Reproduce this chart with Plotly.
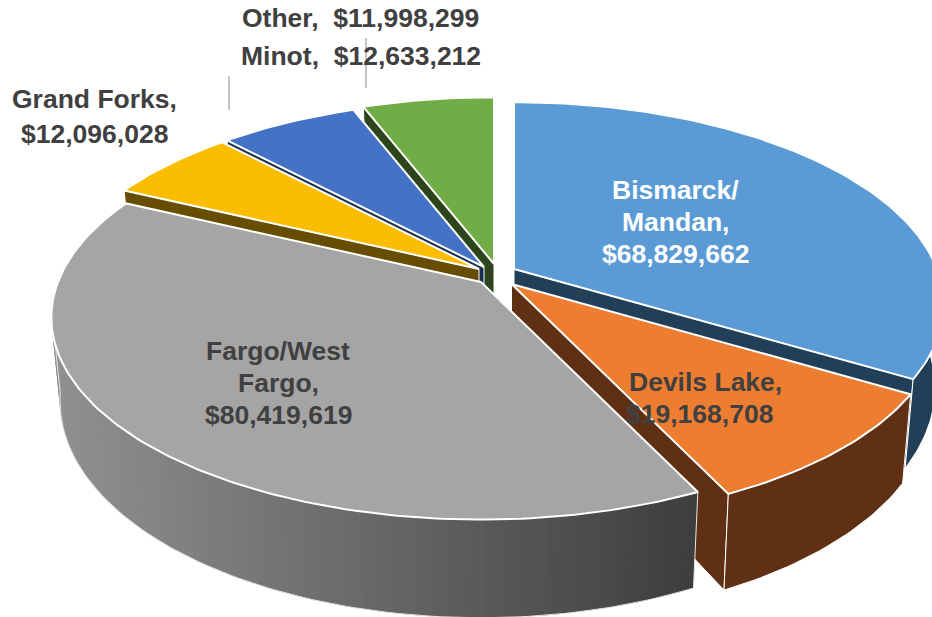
import math
import plotly.graph_objects as go

# ---- data ----
cities = ["Bismarck/Mandan", "Devils Lake", "Fargo/West Fargo", "Grand Forks", "Minot", "Other"]
funding = [68829662, 19168708, 80419619, 12096028, 12633212, 11998299]

# ---- styling, keyed by city ----
top_colors = {"Bismarck/Mandan": "#5B9BD5", "Devils Lake": "#ED7D31", "Fargo/West Fargo": "#A5A5A5",
              "Grand Forks": "#FBBD00", "Minot": "#4472C4", "Other": "#70AD47"}
wall_colors = {"Bismarck/Mandan": "#223F58", "Devils Lake": "#5F3014", "Grand Forks": "#664D00",
               "Minot": "#1B2D4E", "Other": "#2D451C"}
explode_centre = {"Bismarck/Mandan": (514, 269), "Devils Lake": (511.5, 284), "Fargo/West Fargo": (481, 282),
                  "Grand Forks": (479, 269), "Minot": (484, 267), "Other": (494, 264)}
draw_order = ["Other", "Minot", "Grand Forks", "Bismarck/Mandan", "Devils Lake", "Fargo/West Fargo"]
# which straight edge of each slice shows a side wall, and whether its rim wall shows
cut_wall_edge = {"Other": 0, "Minot": 0, "Grand Forks": 0, "Bismarck/Mandan": 1, "Devils Lake": 1}
rim_wall = {"Bismarck/Mandan", "Devils Lake"}

RX, RY, PERSP, DEPTH, FLOOR = 423.0, 196.0, 0.175, 81.0, 0.98
INK = "#404040"
FS = 26.5
LEFT_TANGENT_CLOCK = 262.0

total = sum(funding)
spans = {}
acc = 0.0
for c, v in zip(cities, funding):
    spans[c] = (acc, acc + 360.0 * v / total)
    acc = spans[c][1]


def rim(clock, centre, low=False):
    t = math.radians(90 - clock)
    p = 1 / (1 + PERSP * math.sin(t))
    x = RX * math.cos(t) * p * (FLOOR if low else 1)
    y = -RY * math.sin(t) * p + (DEPTH * p if low else 0)
    return centre[0] + x, centre[1] + y


def arc(a, b, centre, low=False, step=1.0):
    n = max(2, int(abs(b - a) / step) + 1)
    return [rim(a + (b - a) * i / (n - 1), centre, low) for i in range(n)]


fig = go.Figure()


def poly(pts, fill, line="#FFFFFF", width=1.0, name=None):
    xs = [p[0] for p in pts] + [pts[0][0]]
    ys = [p[1] for p in pts] + [pts[0][1]]
    fig.add_trace(go.Scatter(x=xs, y=ys, mode="lines", fill="toself", fillcolor=fill,
                             line=dict(color=line, width=width), name=name, hoverinfo="skip"))


def grey_at(x):
    f = min(1.0, max(0.0, (x - 55) / (690 - 55)))
    v = round(0x90 + (0x3E - 0x90) * f)
    return f"rgb({v},{v},{v})"


for c in draw_order:
    a0, a1 = spans[c]
    ctr = explode_centre[c]
    low_c = (ctr[0], ctr[1] + DEPTH)
    if c == "Fargo/West Fargo":
        end = LEFT_TANGENT_CLOCK
        n = int(end - a0)
        for i in range(n):
            u0 = a0 + (end - a0) * i / n
            u1 = a0 + (end - a0) * min(n, i + 2) / n   # overlaps the next strip, so no seams
            q = [rim(u0, ctr), rim(u1, ctr), rim(u1, ctr, True), rim(u0, ctr, True)]
            xs = [p[0] for p in q] + [q[0][0]]
            ys = [p[1] for p in q] + [q[0][1]]
            fig.add_trace(go.Scatter(x=xs, y=ys, mode="none", fill="toself",
                                     fillcolor=grey_at((q[0][0] + q[1][0]) / 2), hoverinfo="skip"))
        edge = [rim(a0, ctr)] + arc(a0, end, ctr, True) + [rim(end, ctr)]
        fig.add_trace(go.Scatter(x=[p[0] for p in edge], y=[p[1] for p in edge], mode="lines",
                                 line=dict(color="#E8E8E8", width=1), hoverinfo="skip"))
    else:
        w = wall_colors[c]
        e = (a0, a1)[cut_wall_edge[c]]
        poly([ctr, rim(e, ctr), rim(e, ctr, True), low_c], w)
        if c in rim_wall:
            poly(arc(a0, a1, ctr) + arc(a0, a1, ctr, True)[::-1], w)
    poly([ctr] + arc(a0, a1, ctr), top_colors[c], width=2.0, name=c)

# ---- labels ----
fmt = {c: f"${v:,}" for c, v in zip(cities, funding)}
label_lines = [
    ("Other,\u00a0\u00a0" + fmt["Other"], 360, 18, INK),
    ("Minot,\u00a0\u00a0" + fmt["Minot"], 361, 56, INK),
    ("Grand Forks,", 94.5, 99, INK),
    (fmt["Grand Forks"], 94, 134, INK),
    ("Bismarck/", 675, 190, "#FFFFFF"),
    ("Mandan,", 675, 222, "#FFFFFF"),
    (fmt["Bismarck/Mandan"], 675, 254, "#FFFFFF"),
    ("Devils Lake,", 705, 382, INK),
    (fmt["Devils Lake"], 699, 414, INK),
    ("Fargo/West", 278, 351, INK),
    ("Fargo,", 278, 383, INK),
    (fmt["Fargo/West Fargo"], 278, 415, INK),
]
annotations = [dict(x=x, y=y, text=t, showarrow=False, xanchor="center", yanchor="middle",
                    font=dict(family="Liberation Sans, Arial, sans-serif", size=FS, color=col, weight="bold"))
               for t, x, y, col in label_lines]

leaders = [((229, 76), (229, 110)), ((366, 38), (366, 88))]
shapes = [dict(type="line", xref="x", yref="y", x0=p[0], y0=p[1], x1=q[0], y1=q[1],
               line=dict(color="#A6A6A6", width=1.3), layer="above") for p, q in leaders]

fig.update_layout(
    width=932, height=617, margin=dict(l=0, r=0, t=0, b=0),
    paper_bgcolor="#FFFFFF", plot_bgcolor="#FFFFFF", showlegend=False,
    xaxis=dict(range=[0, 932], visible=False, fixedrange=True),
    yaxis=dict(range=[617, 0], visible=False, fixedrange=True),
    annotations=annotations, shapes=shapes,
)
fig.write_html("out.html", config=dict(displayModeBar=False),
               post_script="document.body.style.margin='0';")
